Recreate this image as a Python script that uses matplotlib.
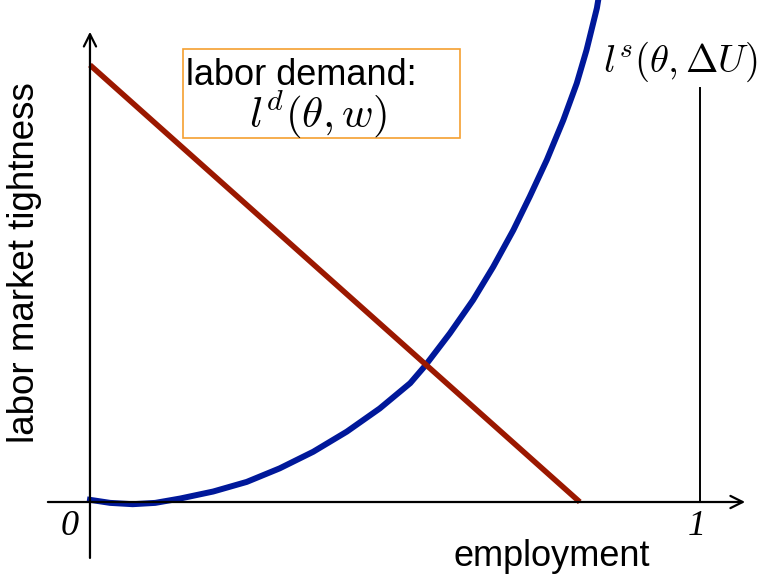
import matplotlib.pyplot as plt
from matplotlib.patches import Rectangle

plt.rcParams['font.family'] = ['Liberation Sans', 'DejaVu Sans']
plt.rcParams['mathtext.fontset'] = 'cm'

# labor demand: straight line from full tightness to zero
demand_x = [0.0, 0.803]
demand_y = [1.0, 0.0]

# labor supply curve, read point by point
supply_x = [0.0, 0.033, 0.070, 0.107, 0.148, 0.202, 0.257, 0.311, 0.366, 0.421,
            0.475, 0.525, 0.549, 0.590, 0.628, 0.661, 0.694, 0.721, 0.749, 0.776,
            0.798, 0.814, 0.831, 0.836]
supply_y = [0.005, -0.002, -0.005, -0.002, 0.008, 0.024, 0.046, 0.077, 0.115, 0.161,
            0.214, 0.272, 0.311, 0.386, 0.462, 0.538, 0.622, 0.699, 0.783, 0.874,
            0.958, 1.034, 1.130, 1.172]

x_ticks = [0, 1]
x_tick_labels = ['0', '1']

fig = plt.figure(figsize=(7.65, 5.77), dpi=100)
ax = fig.add_axes([0, 0, 1, 1])
ax.set_xlim(-0.1475, 1.1066)
ax.set_ylim(-0.1716, 1.1487)
ax.axis('off')

# axes with open arrow heads
arrow = dict(arrowstyle='->', lw=1.6, color='black', mutation_scale=22,
             shrinkA=0, shrinkB=0)
ax.annotate('', xy=(1.074, 0), xytext=(-0.069, 0), arrowprops=arrow)
ax.annotate('', xy=(0, 1.076), xytext=(0, -0.128), arrowprops=arrow)
ax.plot([1, 1], [0, 0.947], color='black', lw=1.4)

ax.plot(supply_x, supply_y, color='#00189a', lw=4.3, solid_joinstyle='round')
ax.plot(demand_x, demand_y, color='#9b1800', lw=4.0, solid_capstyle='butt')

for xt, lab in zip(x_ticks, x_tick_labels):
    ax.text(xt - 0.033 if xt == 0 else xt - 0.005, -0.057, lab,
            family='Liberation Serif', style='italic', fontsize=26,
            ha='center', va='center')

ax.text(0.757, -0.124, 'employment', fontsize=26, ha='center', va='center')
ax.text(-0.107, 0.549, 'labor market tightness', fontsize=26.5,
        rotation=90, ha='center', va='center')

# box around the demand curve label
ax.add_patch(Rectangle((0.152, 0.833), 0.455, 0.204, fill=False,
                       edgecolor='#f5a030', lw=1.2))
ax.text(0.157, 0.954, 'labor demand:', fontsize=26, ha='left', va='baseline')
ax.text(0.374, 0.856, r'$l^d(\theta, w)$', fontsize=31, ha='center', va='baseline')

ax.text(0.841, 0.984, r'$l^s(\theta, \Delta U)$', fontsize=28,
        ha='left', va='baseline')

plt.savefig('out.png', dpi=100)
